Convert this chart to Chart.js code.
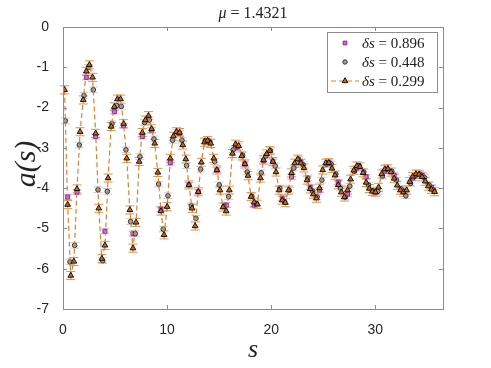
<!DOCTYPE html>
<html>
<head>
<meta charset="utf-8">
<script src="https://cdn.jsdelivr.net/npm/chart.js@4.4.1/dist/chart.umd.min.js"></script>
<style>
  html, body { margin: 0; padding: 0; background: #fff; }
  #c { display: block; }
</style>
</head>
<body>
<canvas id="c" width="491" height="368"></canvas>
<script>
// sample spacings (from the legend) and total length
const stepSq = 0.896;
const stepCirc = 0.448;
const stepTri = 35.84 / 120;

// a(s) for each spacing
const aSq = [
  -4.22, -4.10, -1.25, -2.72, -5.07, -2.10, -2.45, -5.13, -2.72, -2.56,
  -4.52, -3.37, -2.64, -3.92, -4.09, -2.82, -3.55, -4.42, -3.00, -3.40,
  -4.42, -3.32, -3.34, -4.25, -3.72, -3.35, -3.98, -4.05, -3.36, -3.85,
  -4.15, -3.50, -3.72, -4.10, -3.58, -3.68, -4.08, -3.75, -3.68, -3.98
];
const aCirc = [
  -2.33, -5.83, -5.42, -2.93, -1.70, -1.00, -1.56, -4.04, -5.80, -4.08,
  -2.40, -1.95, -1.97, -3.05, -4.83, -5.13, -3.22, -2.37, -2.31, -2.78,
  -3.90, -5.02, -4.19, -2.81, -2.62, -2.81, -3.44, -4.44, -4.75, -3.53,
  -2.82, -2.85, -3.34, -3.92, -4.45, -4.21, -3.05, -2.97, -3.18, -3.60,
  -4.20, -4.38, -3.62, -3.20, -3.07, -3.45, -4.00, -4.33, -4.05, -3.50,
  -3.28, -3.42, -3.75, -4.07, -4.22, -3.80, -3.40, -3.40, -3.65, -4.00,
  -4.22, -3.95, -3.58, -3.44, -3.60, -3.92, -4.07, -4.08, -3.70, -3.53,
  -3.58, -3.80, -4.02, -4.19, -3.88, -3.70, -3.65, -3.74, -3.92, -4.05
];
const aTri = [
  -1.56, -4.41, -6.17, -5.82, -4.02, -2.60, -1.81, -1.10, -0.94, -1.25,
  -2.64, -4.50, -5.75, -5.42, -3.75, -2.47, -1.98, -1.79, -1.79, -2.40,
  -3.26, -4.54, -5.49, -4.85, -3.34, -2.62, -2.31, -2.20, -2.53, -2.89,
  -3.61, -4.57, -5.16, -4.46, -3.26, -2.71, -2.60, -2.62, -2.93, -3.28,
  -3.92, -4.50, -4.94, -4.09, -3.36, -2.86, -2.82, -2.89, -3.26, -3.55,
  -4.05, -4.47, -4.57, -4.05, -3.14, -2.91, -2.95, -3.20, -3.40, -3.69,
  -4.21, -4.35, -4.40, -3.75, -3.30, -3.15, -3.07, -3.34, -3.60, -4.05,
  -4.30, -4.36, -4.05, -3.62, -3.38, -3.28, -3.38, -3.50, -3.80, -4.02,
  -4.15, -4.25, -4.00, -3.55, -3.38, -3.37, -3.51, -3.68, -3.92, -4.10,
  -4.22, -4.05, -3.78, -3.56, -3.45, -3.47, -3.62, -3.86, -4.01, -4.08,
  -4.10, -3.98, -3.65, -3.53, -3.52, -3.60, -3.76, -3.93, -4.05, -4.10,
  -4.05, -3.84, -3.71, -3.65, -3.66, -3.72, -3.83, -3.95, -4.03, -4.09
];
const errSq = 0.06;
const errCirc = 0.07;
const errTri = 0.1;

const legendLabels = ['0.896', '0.448', '0.299'];
const xTicks = [0, 10, 20, 30];
const yTicks = [0, -1, -2, -3, -4, -5, -6, -7];

// points sit at the middle of each step
const toPts = (vals, step) => vals.map((v, i) => ({ x: (i + 0.5) * step, y: v }));

const serif = '"Liberation Serif", "DejaVu Serif", serif';
const sans = '"Liberation Sans", Arial, sans-serif';

const decor = {
    id: 'decor',
    beforeDatasetsDraw(chart) {
        const ctx = chart.ctx;
        const ys = chart.scales.y;
        chart.data.datasets.forEach((ds, i) => {
            const meta = chart.getDatasetMeta(i);
            ctx.save();
            ctx.strokeStyle = ds.errColor;
            ctx.lineWidth = 1;
            meta.data.forEach((pt, j) => {
                const v = ds.data[j].y;
                const y1 = ys.getPixelForValue(v + ds.err);
                const y2 = ys.getPixelForValue(v - ds.err);
                ctx.beginPath();
                ctx.moveTo(pt.x, y1); ctx.lineTo(pt.x, y2);
                ctx.moveTo(pt.x - 4.5, y1); ctx.lineTo(pt.x + 4.5, y1);
                ctx.moveTo(pt.x - 4.5, y2); ctx.lineTo(pt.x + 4.5, y2);
                ctx.stroke();
            });
            ctx.restore();
        });
    },
    afterDraw(chart) {
        const ctx = chart.ctx;
        const a = chart.chartArea;
        const xs = chart.scales.x, ys = chart.scales.y;
        ctx.save();
        // box and inward ticks
        ctx.strokeStyle = '#8c8c8c';
        ctx.lineWidth = 1;
        ctx.strokeRect(Math.round(a.left) + 0.5, Math.round(a.top) + 0.5,
            Math.round(a.right - a.left), Math.round(a.bottom - a.top));
        ctx.beginPath();
        xTicks.forEach(v => {
            const p = Math.round(xs.getPixelForValue(v)) + 0.5;
            ctx.moveTo(p, a.bottom); ctx.lineTo(p, a.bottom - 4);
            ctx.moveTo(p, a.top); ctx.lineTo(p, a.top + 4);
        });
        yTicks.forEach(v => {
            const p = Math.round(ys.getPixelForValue(v)) + 0.5;
            ctx.moveTo(a.left, p); ctx.lineTo(a.left + 4, p);
            ctx.moveTo(a.right, p); ctx.lineTo(a.right - 4, p);
        });
        ctx.stroke();

        // titles
        ctx.fillStyle = '#222';
        ctx.textBaseline = 'alphabetic';
        const cx = (a.left + a.right) / 2;
        ctx.font = 'italic 16px ' + serif;
        const muW = ctx.measureText('\u03bc').width;
        ctx.font = '16px ' + serif;
        const restW = ctx.measureText(' = 1.4321').width;
        ctx.textAlign = 'left';
        ctx.font = 'italic 16px ' + serif;
        ctx.fillText('\u03bc', cx - (muW + restW) / 2, 18);
        ctx.font = '16px ' + serif;
        ctx.fillText(' = 1.4321', cx - (muW + restW) / 2 + muW, 18);

        ctx.textAlign = 'center';
        ctx.font = 'italic 26px ' + serif;
        ctx.fillText('s', cx, 357);
        ctx.save();
        ctx.translate(27, (a.top + a.bottom) / 2 - 4);
        ctx.rotate(-Math.PI / 2);
        ctx.textBaseline = 'middle';
        ctx.font = 'italic 30px ' + serif;
        ctx.fillText('a(s)', 0, 0);
        ctx.restore();

        // legend
        const lx = 327, ly = 32, lw = 110, lh = 60;
        ctx.fillStyle = '#fff';
        ctx.fillRect(lx, ly, lw, lh);
        ctx.strokeStyle = '#8c8c8c';
        ctx.strokeRect(lx + 0.5, ly + 0.5, lw, lh);
        const order = [2, 1, 0];
        order.forEach((di, row) => {
            const ds = chart.data.datasets[di];
            const ry = ly + 11 + row * 19;
            const mx = 345;
            if (ds.showLine) {
                ctx.save();
                ctx.strokeStyle = ds.borderColor;
                ctx.lineWidth = 1.2;
                ctx.setLineDash([5, 3]);
                ctx.beginPath();
                ctx.moveTo(331, ry); ctx.lineTo(359, ry);
                ctx.stroke();
                ctx.restore();
            }
            ctx.fillStyle = ds.pointBackgroundColor;
            ctx.strokeStyle = ds.pointBorderColor;
            ctx.lineWidth = 1;
            Chart.helpers.drawPoint(ctx, { pointStyle: ds.pointStyle, radius: ds.legendRadius, borderWidth: 1 }, mx, ry);
            ctx.fillStyle = '#222';
            ctx.textAlign = 'left';
            ctx.textBaseline = 'middle';
            ctx.font = 'italic 15px ' + serif;
            ctx.fillText('\u03b4s', 362, ry + 1);
            const w = ctx.measureText('\u03b4s').width;
            ctx.font = '15px ' + serif;
            ctx.fillText(' = ' + ds.label, 362 + w, ry + 1);
        });
        ctx.restore();
    }
};

new Chart(document.getElementById('c').getContext('2d'), {
    type: 'scatter',
    data: {
        datasets: [
            {
                label: legendLabels[2],
                data: toPts(aTri, stepTri),
                showLine: true,
                borderColor: 'rgb(214, 130, 52)',
                borderWidth: 1.2,
                borderDash: [5, 3],
                pointStyle: 'triangle',
                pointRadius: 3.3,
                legendRadius: 3.3,
                pointBackgroundColor: 'rgb(205, 100, 20)',
                pointBorderColor: '#111',
                pointBorderWidth: 1,
                err: errTri,
                errColor: 'rgb(232, 145, 60)',
                order: 0
            },
            {
                label: legendLabels[1],
                data: toPts(aCirc, stepCirc),
                showLine: false,
                pointStyle: 'circle',
                pointRadius: 2.3,
                legendRadius: 2.2,
                pointBackgroundColor: '#a0a0a0',
                pointBorderColor: '#333',
                pointBorderWidth: 1,
                err: errCirc,
                errColor: '#cccccc',
                order: 1
            },
            {
                label: legendLabels[0],
                data: toPts(aSq, stepSq),
                showLine: false,
                pointStyle: 'rect',
                pointRadius: 2.8,
                legendRadius: 2.6,
                pointBackgroundColor: 'rgb(205, 110, 205)',
                pointBorderColor: 'rgb(126, 47, 142)',
                pointBorderWidth: 1,
                err: errSq,
                errColor: 'rgb(228, 165, 228)',
                order: 2
            }
        ]
    },
    options: {
        responsive: false,
        animation: false,
        devicePixelRatio: 1,
        layout: { padding: { top: 27, right: 48, left: 0, bottom: 0 } },
        scales: {
            x: {
                type: 'linear',
                min: 0,
                max: 36.5,
                grid: { display: false },
                border: { display: false },
                afterBuildTicks: s => { s.ticks = xTicks.map(v => ({ value: v })); },
                afterFit: s => { s.height = 59; },
                ticks: {
                    color: '#262626',
                    font: { family: sans, size: 14 },
                    padding: 5,
                    maxRotation: 0,
                    callback: v => String(v)
                }
            },
            y: {
                type: 'linear',
                min: -7,
                max: 0,
                grid: { display: false },
                border: { display: false },
                afterBuildTicks: s => { s.ticks = yTicks.map(v => ({ value: v })); },
                afterFit: s => { s.width = 63; },
                ticks: {
                    color: '#262626',
                    font: { family: sans, size: 14 },
                    padding: 6,
                    callback: v => String(v)
                }
            }
        },
        plugins: {
            legend: { display: false },
            tooltip: { enabled: false }
        }
    },
    plugins: [decor]
});
</script>
</body>
</html>
